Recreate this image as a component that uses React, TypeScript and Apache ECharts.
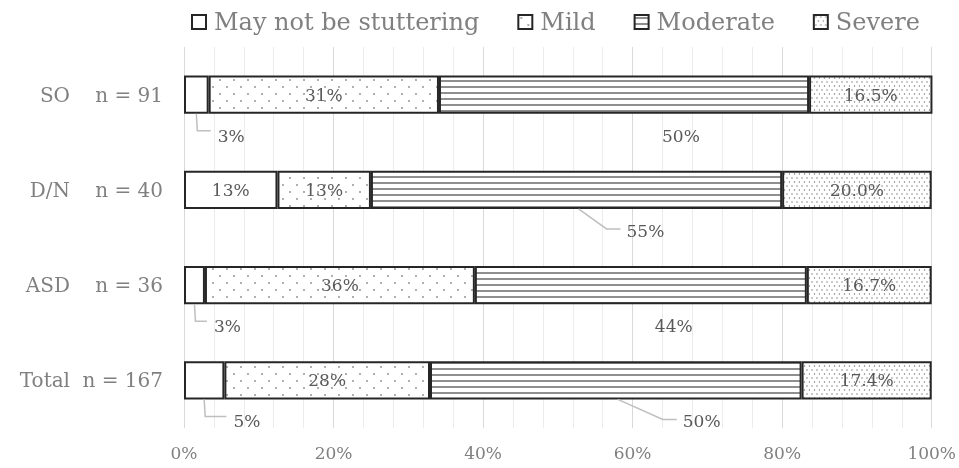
import React, { useEffect, useRef } from 'react';
import * as echarts from 'echarts';

// ---- data (percent of each group, as labelled) ----
const groups = ['SO', 'D/N', 'ASD', 'Total'];
const groupN = [91, 40, 36, 167];
const seriesNames = ['May not be stuttering', 'Mild', 'Moderate', 'Severe'];
const mayNotPct = [3.3, 12.5, 2.8, 5.4];
const mildPct = [30.8, 12.5, 36.1, 27.5];
const moderatePct = [49.5, 55.0, 44.4, 49.7];
const severePct = [16.5, 20.0, 16.7, 17.4];
const labelDecimals = [0, 0, 0, 1];
const xTicks = [0, 20, 40, 60, 80, 100];

// ---- label placement (styling only) ----
type Outside = { series: number; group: number; mode: 'after' | 'below'; shift: number; line: boolean };
const outsideLabels: Outside[] = [
  { series: 0, group: 0, mode: 'after', shift: 0, line: true },
  { series: 0, group: 2, mode: 'after', shift: 0, line: true },
  { series: 0, group: 3, mode: 'after', shift: 0, line: true },
  { series: 2, group: 0, mode: 'below', shift: 38, line: false },
  { series: 2, group: 1, mode: 'below', shift: 50, line: true },
  { series: 2, group: 2, mode: 'below', shift: 14, line: false },
  { series: 2, group: 3, mode: 'below', shift: 67, line: true },
];

const FONT = '"DejaVu Serif", serif';

function makePattern(w: number, h: number, draw: (ctx: CanvasRenderingContext2D) => void) {
  const c = document.createElement('canvas');
  c.width = w;
  c.height = h;
  const ctx = c.getContext('2d')!;
  ctx.fillStyle = '#ffffff';
  ctx.fillRect(0, 0, w, h);
  draw(ctx);
  return { image: c, repeat: 'repeat', imageWidth: w, imageHeight: h } as any;
}

function dot(ctx: CanvasRenderingContext2D, x: number, y: number, r: number) {
  ctx.beginPath();
  ctx.arc(x, y, r, 0, Math.PI * 2);
  ctx.fill();
}

export default function App() {
  const ref = useRef<HTMLDivElement>(null);

  useEffect(() => {
    document.body.style.margin = '0';
    const chart = echarts.init(ref.current!, null, { renderer: 'svg' });

    const pct = [mayNotPct, mildPct, moderatePct, severePct];
    const starts = pct.map((arr, s) =>
      arr.map((_, g) => {
        let acc = 0;
        for (let k = 0; k < s; k++) acc += pct[k][g];
        return acc;
      })
    );
    const fmt = (s: number, g: number) => pct[s][g].toFixed(labelDecimals[s]) + '%';

    const patterns = [
      '#ffffff',
      makePattern(14, 14, (ctx) => {
        ctx.fillStyle = '#8a8a8a';
        dot(ctx, 3, 3, 0.9);
        dot(ctx, 10, 10, 0.9);
      }),
      makePattern(6, 6, (ctx) => {
        ctx.fillStyle = '#8f8f8f';
        ctx.fillRect(0, 2, 6, 2);
      }),
      makePattern(10, 8, (ctx) => {
        ctx.fillStyle = '#7a7a7a';
        dot(ctx, 2, 2, 0.75);
        dot(ctx, 7, 2, 0.75);
        dot(ctx, 4.5, 6, 0.75);
        dot(ctx, 9.5, 6, 0.75);
      }),
    ];

    const isOutside = (s: number, g: number) => outsideLabels.some((o) => o.series === s && o.group === g);

    const barSeries = seriesNames.map((name, s) => ({
      name,
      type: 'bar',
      stack: 'total',
      barWidth: '40%',
      itemStyle: { color: patterns[s], borderColor: '#262626', borderWidth: 2 },
      label: {
        show: true,
        position: 'inside',
        color: '#595959',
        fontSize: 17,
        fontFamily: FONT,
        formatter: (p: any) => fmt(s, p.dataIndex),
      },
      emphasis: { disabled: true },
      data: pct[s].map((v, g) => (isOutside(s, g) ? { value: v, label: { show: false } } : v)),
    }));

    const customData = outsideLabels.map((o) => [
      starts[o.series][o.group],
      starts[o.series][o.group] + pct[o.series][o.group],
      o.group,
    ]);

    const option: any = {
      animation: false,
      grid: { left: 184, right: 27, top: 47, bottom: 40 },
      legend: {
        data: seriesNames,
        icon: 'rect',
        left: 186,
        top: 5,
        itemWidth: 14,
        itemHeight: 14,
        itemGap: 38,
        selectedMode: false,
        textStyle: { fontSize: 24, color: '#808080', fontFamily: FONT, padding: [0, 0, 0, 3] },
      },
      xAxis: {
        type: 'value',
        min: 0,
        max: 100,
        interval: 20,
        axisLine: { show: false },
        axisTick: { show: false },
        axisLabel: {
          color: '#808080',
          fontSize: 17,
          fontFamily: FONT,
          margin: 16,
          formatter: (v: number) => (xTicks.includes(v) ? v + '%' : ''),
        },
        splitLine: { show: true, lineStyle: { color: '#d9d9d9', width: 1 } },
        minorTick: { show: false, splitNumber: 5 },
        minorSplitLine: { show: true, lineStyle: { color: '#ececec', width: 1 } },
      },
      yAxis: {
        type: 'category',
        inverse: true,
        data: groups,
        axisLine: { show: false },
        axisTick: { show: false },
        axisLabel: {
          margin: 21,
          formatter: (v: string, i: number) => `{a|${v}}{b|n = ${groupN[i]}}`,
          rich: {
            a: { align: 'right', fontSize: 20, fontFamily: FONT, color: '#808080' },
            b: { width: 93, align: 'right', fontSize: 20, fontFamily: FONT, color: '#808080' },
          },
        },
      },
      series: [
        ...barSeries,
        {
          type: 'custom',
          name: 'outsideLabels',
          silent: true,
          z: 5,
          encode: { x: [0, 1], y: 2 },
          data: customData,
          renderItem: (params: any, api: any) => {
            const o = outsideLabels[params.dataIndex];
            const a = api.coord([api.value(0), api.value(2)]);
            const b = api.coord([api.value(1), api.value(2)]);
            const bandH = api.size([0, 1])[1];
            const bottom = a[1] + (bandH * 0.4) / 2;
            const cx = (a[0] + b[0]) / 2;
            let tx: number;
            let pts: number[][];
            if (o.mode === 'after') {
              tx = b[0] + 9;
              pts = [
                [cx, bottom],
                [cx + 1, bottom + 17],
                [tx - 7, bottom + 17],
              ];
            } else {
              tx = cx + o.shift;
              pts = [
                [cx + 2, bottom],
                [tx - 20, bottom + 20],
                [tx - 6, bottom + 20],
              ];
            }
            const children: any[] = [];
            if (o.line) {
              children.push({
                type: 'polyline',
                shape: { points: pts },
                style: { stroke: '#bfbfbf', lineWidth: 1.5, fill: null },
              });
            }
            children.push({
              type: 'text',
              x: tx,
              y: bottom + 22,
              style: {
                text: fmt(o.series, o.group),
                fill: '#595959',
                fontSize: 17,
                fontFamily: FONT,
                align: 'left',
                verticalAlign: 'middle',
              },
            });
            return { type: 'group', children };
          },
        },
      ],
    };

    chart.setOption(option);
    return () => chart.dispose();
  }, []);

  return <div ref={ref} style={{ position: 'fixed', left: 0, top: 0, width: 959, height: 468 }} />;
}
